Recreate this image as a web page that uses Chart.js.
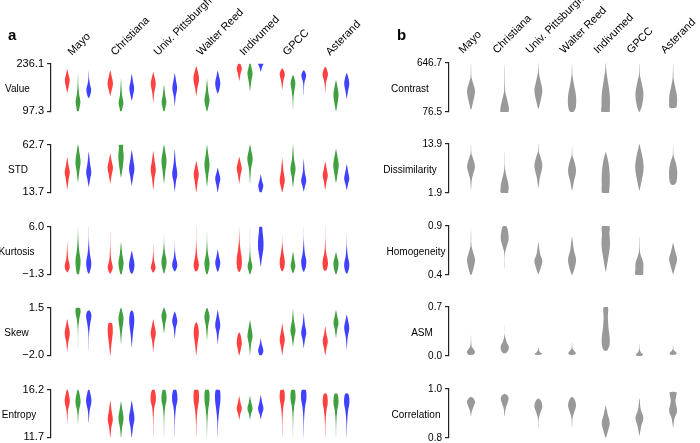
<!DOCTYPE html>
<html>
<head>
<meta charset="utf-8">
<script src="https://cdn.jsdelivr.net/npm/chart.js@4.4.0/dist/chart.umd.min.js"></script>
<style>
  body { margin: 0; background: #fff; }
  #fig { position: relative; width: 700px; height: 443px; overflow: hidden; font-family: "Liberation Sans", Arial, sans-serif; }
  canvas { position: absolute; }
  .lbl { position: absolute; font-size: 10px; color: #000; white-space: nowrap; transform: translate(-50%, -50%); }
  .col { position: absolute; font-size: 11px; line-height: 13px; color: #000; white-space: nowrap; transform-origin: 0 100%; transform: rotate(-45deg); }
  .pan { position: absolute; font-size: 15px; font-weight: bold; color: #000; }
</style>
</head>
<body>
<div id="fig"></div>
<script>
const sites = ['Mayo', 'Christiana', 'Univ. Pittsburgh', 'Walter Reed', 'Indivumed', 'GPCC', 'Asterand'];
const rowsA = ['Value', 'STD', 'Kurtosis', 'Skew', 'Entropy'];
const ticksA = [[97.3, 236.1], [13.7, 62.7], [-1.3, 6.0], [-2.0, 1.5], [11.7, 16.2]];
const rowsB = ['Contrast', 'Dissimilarity', 'Homogeneity', 'ASM', 'Correlation'];
const ticksB = [[76.5, 646.7], [1.9, 13.9], [0.4, 0.9], [0.0, 0.7], [0.8, 1.0]];

// each violin = [value, relative width] pairs from bottom to top, one per site
const valueR = [
  [[152,.05],[165,.35],[188,.8],[207,.35],[220,.03]],
  [[143,.05],[158,.45],[178,.9],[200,.45],[217,.03]],
  [[123,.03],[150,.3],[178,.85],[198,.4],[212,.03]],
  [[143,.05],[165,.4],[192,.95],[215,.45],[229,.03]],
  [[186,.03],[205,.4],[222,.85],[232,.5],[236.1,.25]],
  [[161,.03],[185,.35],[205,.85],[218,.4],[222.5,.04]],
  [[152,.03],[180,.25],[205,.9],[222,.4],[227,.04]]
];
const valueG = [
  [[97.3,.25],[112,.6],[125,.8],[150,.35],[175,.12],[206,.03]],
  [[97.3,.2],[110,.55],[122,.8],[145,.35],[170,.15],[191,.03]],
  [[97.3,.15],[110,.5],[125,.8],[145,.4],[174,.03]],
  [[97.3,.1],[112,.5],[130,.85],[155,.4],[191,.03]],
  [[156,.03],[180,.35],[208,.85],[228,.4],[236.1,.15]],
  [[106,.03],[140,.2],[165,.6],[180,.8],[195,.4],[203,.04]],
  [[97.3,.05],[115,.4],[145,.85],[170,.45],[188,.03]]
];
const valueB = [
  [[136,.1],[148,.6],[160,.8],[178,.35],[195,.1],[215,.02]],
  [[129,.05],[145,.45],[165,.8],[185,.4],[206,.03]],
  [[114,.03],[140,.3],[165,.8],[188,.4],[208,.03]],
  [[149,.05],[160,.5],[180,.85],[200,.4],[215,.03]],
  [[212.5,.03],[225,.4],[233,.8],[236.1,.9]],
  [[145,.03],[180,.2],[200,.8],[212,.45],[217,.04]],
  [[134,.03],[155,.4],[178,.85],[198,.45],[209,.03]]
];

const stdR = [
  [[17,.03],[27,.45],[34,.85],[42,.4],[50,.03]],
  [[22.7,.03],[32,.5],[39,.9],[47,.4],[53.7,.03]],
  [[16.3,.03],[28,.4],[37,.85],[46,.45],[56,.03]],
  [[13.7,.03],[25,.5],[32,.85],[40,.4],[46,.03]],
  [[22.7,.03],[32,.45],[38,.85],[45,.4],[50,.03]],
  [[13.7,.05],[20,.5],[26,.85],[36,.4],[49,.02]],
  [[16.3,.03],[25,.45],[31,.85],[39,.4],[45,.03]]
];
const stdG = [
  [[24,.03],[35,.45],[45,.85],[56,.4],[62.7,.05]],
  [[29,.03],[38,.5],[50,.9],[58,.7],[62.7,.6]],
  [[22.7,.03],[35,.45],[46,.85],[56,.4],[62.7,.03]],
  [[19.5,.03],[32,.45],[42,.85],[53,.4],[62.7,.02]],
  [[22.7,.02],[38,.35],[48,.9],[57,.4],[62.7,.03]],
  [[19,.03],[30,.45],[38,.85],[48,.35],[62.7,.02]],
  [[23.3,.05],[33,.55],[42,.9],[52,.4],[58.5,.03]]
];
const stdB = [
  [[19.5,.03],[28,.5],[34,.85],[44,.4],[55,.03]],
  [[21,.03],[30,.5],[38,.9],[48,.45],[57,.03]],
  [[14.7,.03],[25,.4],[32,.85],[44,.35],[58,.02]],
  [[13.7,.03],[22,.5],[28,.85],[34,.4],[39,.03]],
  [[13.7,.3],[18,.7],[21,.85],[26,.4],[32,.03]],
  [[14.7,.03],[21,.5],[26,.85],[34,.35],[48,.02]],
  [[16.3,.05],[23,.5],[28,.85],[36,.4],[42.5,.03]]
];

const kurtR = [
  [[-1.0,.05],[-0.6,.6],[0,.85],[1,.35],[2.5,.1],[3.6,.02]],
  [[-1.15,.15],[-0.6,.7],[-0.2,.85],[1,.3],[3,.06],[5.3,.02]],
  [[-1.0,.15],[-0.6,.6],[-0.2,.8],[0.8,.3],[2,.08],[3.3,.02]],
  [[-0.8,.3],[-0.2,.8],[0.3,.85],[1.5,.35],[3.5,.06],[6,.02]],
  [[-0.9,.2],[-0.2,.75],[1,.85],[2.5,.4],[4,.1],[5.8,.02]],
  [[-0.8,.15],[-0.2,.7],[0.7,.85],[2,.4],[3.5,.06],[4.7,.02]],
  [[-0.7,.35],[0,.85],[0.8,.85],[2,.3],[4,.05],[6,.02]]
];
const kurtG = [
  [[-1.3,.3],[-0.3,.7],[0.8,.85],[2.5,.35],[4.5,.08],[6,.02]],
  [[-1.3,.15],[-0.5,.6],[0.5,.85],[1.8,.4],[3.6,.03]],
  [[-1.15,.1],[-0.3,.6],[0.7,.85],[2,.35],[3.5,.06],[4.9,.02]],
  [[-1.3,.15],[-0.4,.7],[0.5,.85],[2,.3],[3.8,.06],[5.3,.02]],
  [[-1.3,.1],[-0.5,.6],[0,.8],[1,.3],[3,.05],[6,.02]],
  [[-1.15,.05],[-0.5,.55],[0,.8],[0.9,.45],[2.2,.03]],
  [[-1.3,.1],[-0.4,.7],[0.5,.85],[1.3,.45],[2.1,.03]]
];
const kurtB = [
  [[-1.15,.2],[-0.3,.7],[0.5,.85],[2,.35],[4,.05],[6,.02]],
  [[-1.15,.25],[-0.5,.75],[0.3,.9],[1.3,.5],[2.3,.03]],
  [[-0.8,.15],[-0.3,.7],[0.3,.85],[1.3,.35],[2.5,.06],[3.8,.02]],
  [[-0.9,.1],[-0.2,.6],[0.5,.85],[1.5,.4],[2.5,.03]],
  [[-0.06,.05],[1.2,.4],[2.5,.85],[3.8,.9],[5.2,.6],[6,.4]],
  [[-0.9,.1],[-0.2,.65],[0.7,.85],[2,.35],[4,.05],[6,.01]],
  [[-1.15,.2],[-0.4,.75],[0.3,.85],[1.5,.35],[3.2,.06],[4.8,.02]]
];

const skewR = [
  [[-1.75,.02],[-1.1,.3],[-0.4,.85],[0.2,.4],[0.65,.03]],
  [[-2,.05],[-1.3,.35],[-0.3,.85],[0.2,.75],[0.36,.5]],
  [[-1.75,.02],[-1.0,.35],[-0.4,.85],[0.2,.4],[0.65,.03]],
  [[-2,.03],[-1.2,.4],[-0.4,.85],[0.2,.55],[0.42,.1]],
  [[-2,.05],[-1.5,.55],[-1.05,.85],[-0.55,.5],[-0.33,.1]],
  [[-1.98,.02],[-1.4,.4],[-0.85,.85],[-0.2,.35],[0.36,.02]],
  [[-2,.03],[-1.5,.4],[-0.95,.85],[-0.4,.35],[0.13,.02]]
];
const skewG = [
  [[-1.52,.02],[0,.1],[0.7,.45],[1.2,.85],[1.5,.55]],
  [[-1.18,.02],[-0.3,.3],[0.7,.85],[1.2,.45],[1.5,.05]],
  [[-0.38,.03],[0.3,.4],[0.9,.85],[1.3,.4],[1.5,.03]],
  [[-0.88,.02],[0.1,.35],[0.8,.85],[1.3,.4],[1.5,.03]],
  [[-2,.02],[-1.2,.35],[-0.6,.85],[0.1,.4],[0.58,.02]],
  [[-1.34,.02],[-0.7,.4],[-0.15,.85],[0.6,.3],[1.4,.02]],
  [[-0.72,.02],[-0.1,.4],[0.35,.85],[0.9,.4],[1.34,.02]]
];
const skewB = [
  [[-1.64,.02],[-0.4,.12],[0.4,.55],[0.9,.9],[1.25,.4]],
  [[-1.41,.02],[-0.5,.35],[0.5,.85],[1.1,.6],[1.27,.2]],
  [[-0.79,.02],[0,.35],[0.5,.85],[1.0,.4],[1.22,.03]],
  [[-1.18,.02],[-0.4,.35],[0.2,.85],[0.9,.35],[1.34,.02]],
  [[-2,.3],[-1.8,.75],[-1.6,.85],[-1.15,.3],[-0.72,.02]],
  [[-1.48,.02],[-0.9,.35],[-0.35,.85],[0.3,.35],[1.11,.02]],
  [[-1.57,.02],[-0.7,.3],[0,.85],[0.6,.4],[1.0,.02]]
];

const entR = [
  [[13.05,.02],[14.2,.25],[15.1,.85],[15.8,.5],[16.2,.1]],
  [[11.7,.05],[12.6,.35],[13.4,.85],[14.3,.4],[15.17,.02]],
  [[11.7,.02],[13.5,.1],[14.5,.35],[15.3,.9],[16.2,.4]],
  [[11.7,.02],[13.2,.12],[14.3,.4],[15.3,.9],[16.2,.6]],
  [[13.35,.02],[13.9,.35],[14.4,.85],[15.0,.4],[15.6,.02]],
  [[11.7,.02],[13.4,.1],[14.5,.35],[15.4,.85],[16.2,.5]],
  [[11.7,.02],[13.2,.12],[14.2,.4],[15.0,.85],[15.8,.45]]
];
const entG = [
  [[12.97,.02],[14.1,.25],[15.0,.85],[15.8,.5],[16.2,.1]],
  [[11.7,.05],[12.6,.35],[13.5,.85],[14.4,.4],[15.1,.02]],
  [[11.7,.02],[13.5,.1],[14.5,.35],[15.3,.85],[16.2,.4]],
  [[11.7,.02],[13.2,.12],[14.3,.4],[15.3,.85],[16.2,.55]],
  [[13.35,.02],[13.9,.35],[14.4,.85],[15.0,.4],[15.6,.02]],
  [[11.7,.02],[13.4,.1],[14.5,.35],[15.4,.85],[16.2,.5]],
  [[11.7,.02],[13.2,.12],[14.2,.4],[15.0,.85],[15.8,.45]]
];
const entB = [
  [[13.05,.02],[14.2,.3],[15.1,.9],[15.8,.55],[16.2,.15]],
  [[11.7,.05],[12.6,.4],[13.5,.9],[14.4,.45],[15.17,.02]],
  [[11.7,.02],[13.5,.12],[14.5,.4],[15.3,.9],[16.2,.45]],
  [[11.7,.02],[13.2,.15],[14.3,.5],[15.3,.9],[16.2,.6]],
  [[13.4,.02],[13.9,.4],[14.4,.9],[15.0,.45],[15.7,.02]],
  [[11.7,.02],[13.4,.12],[14.5,.4],[15.4,.9],[16.2,.6]],
  [[11.7,.02],[13.2,.15],[14.2,.45],[15.0,.9],[15.8,.5]]
];

const contrast = [
  [[102.6,.05],[170,.35],[318,.85],[420,.4],[480,.1],[635,.02]],
  [[76.5,.85],[120,.9],[180,.7],[260,.35],[330,.1],[617,.02]],
  [[113.7,.05],[190,.4],[330,.85],[440,.45],[540,.1],[646.7,.02]],
  [[76.5,.35],[130,.8],[260,.85],[400,.4],[500,.1],[635,.02]],
  [[76.5,.85],[150,.9],[280,.85],[420,.5],[560,.12],[646.7,.02]],
  [[76.5,.05],[150,.55],[290,.85],[420,.45],[510,.1],[635,.02]],
  [[125,.7],[180,.85],[270,.8],[380,.4],[470,.1],[635,.02]]
];
const dissimilarity = [
  [[2.7,.03],[5,.15],[6.5,.45],[8.4,.85],[10.5,.4],[11.5,.1],[13.7,.02]],
  [[1.9,.75],[3.5,.85],[5.5,.5],[7,.2],[8.5,.05],[11.8,.02]],
  [[3.16,.03],[5.5,.3],[8.5,.85],[10.8,.45],[12,.1],[13.9,.02]],
  [[2.5,.03],[4.5,.35],[7.3,.85],[9.8,.45],[11,.1],[13.1,.02]],
  [[1.9,.7],[4,.85],[6.5,.85],[9.5,.55],[11.9,.05]],
  [[2.5,.03],[4.5,.4],[8,.9],[11,.6],[12.5,.3],[13.9,.02]],
  [[3.9,.3],[4.8,.75],[7.5,.85],[9.8,.45],[11,.1],[13.35,.02]]
];
const homogeneity = [
  [[0.4,.1],[0.48,.6],[0.56,.85],[0.64,.4],[0.7,.1],[0.854,.02]],
  [[0.47,.03],[0.62,.08],[0.7,.5],[0.77,.85],[0.86,.65],[0.9,.3]],
  [[0.407,.03],[0.48,.55],[0.545,.85],[0.62,.35],[0.733,.02]],
  [[0.4,.05],[0.48,.6],[0.56,.85],[0.65,.4],[0.79,.02]],
  [[0.43,.02],[0.55,.45],[0.7,.9],[0.82,.8],[0.9,.75]],
  [[0.4,.8],[0.47,.85],[0.53,.8],[0.6,.3],[0.65,.08],[0.79,.02]],
  [[0.407,.03],[0.48,.45],[0.56,.85],[0.64,.45],[0.73,.02]]
];
const asm = [
  [[0.018,.5],[0.05,.85],[0.085,.7],[0.13,.2],[0.2,.05],[0.297,.02]],
  [[0.041,.3],[0.09,.8],[0.14,.85],[0.2,.4],[0.3,.04],[0.42,.02]],
  [[0.018,.6],[0.035,.8],[0.05,.4],[0.085,.1],[0.124,.02]],
  [[0.018,.5],[0.04,.8],[0.07,.5],[0.11,.1],[0.192,.02]],
  [[0.078,.35],[0.15,.8],[0.26,.85],[0.4,.6],[0.55,.45],[0.7,.45]],
  [[0.0,.5],[0.025,.75],[0.05,.3],[0.1,.06],[0.178,.02]],
  [[0.018,.5],[0.04,.75],[0.06,.5],[0.09,.12],[0.146,.02]]
];
const correlation = [
  [[0.889,.03],[0.91,.2],[0.935,.7],[0.95,.85],[0.962,.5],[0.967,.1]],
  [[0.889,.03],[0.92,.2],[0.945,.65],[0.962,.85],[0.975,.55],[0.98,.1]],
  [[0.837,.02],[0.88,.1],[0.91,.55],[0.93,.85],[0.952,.55],[0.961,.1]],
  [[0.843,.02],[0.885,.15],[0.915,.65],[0.935,.85],[0.955,.6],[0.967,.1]],
  [[0.8,.03],[0.83,.5],[0.86,.85],[0.895,.45],[0.932,.02]],
  [[0.81,.03],[0.85,.4],[0.882,.85],[0.915,.3],[0.961,.02]],
  [[0.843,.02],[0.88,.3],[0.91,.85],[0.95,.5],[0.975,.7],[0.987,.7]]
];

const seriesA = [[valueR, valueG, valueB], [stdR, stdG, stdB], [kurtR, kurtG, kurtB], [skewR, skewG, skewB], [entR, entG, entB]];
const seriesB = [[contrast], [dissimilarity], [homogeneity], [asm], [correlation]];

const fig = document.getElementById('fig');
const FONT = '"Liberation Sans", Arial, sans-serif';
const rowTop = [62, 143, 225, 306, 388];
const rowH = 51;
const PAD = 8;

function violinData(knots, c, h) {
  const right = knots.map(([y, w]) => ({x: c + w * h, y: y}));
  const left = knots.slice().reverse().map(([y, w]) => ({x: c - w * h, y: y}));
  const pts = right.concat(left);
  pts.push(pts[0]);
  return pts;
}

function fmt(v) {
  return v.toFixed(1).replace('-', '\u2212');
}

function drawRow(o) {
  const cv = document.createElement('canvas');
  cv.width = o.width;
  cv.height = rowH + 2 * PAD;
  cv.style.left = o.left + 'px';
  cv.style.top = (o.top - PAD) + 'px';
  fig.appendChild(cv);

  const datasets = [];
  o.groups.forEach((series, k) => {
    series.forEach((knots, i) => {
      datasets.push({
        data: violinData(knots, i + o.offsets[k], o.half),
        showLine: true,
        fill: 'shape',
        tension: 0.35,
        backgroundColor: o.colors[k],
        borderColor: 'rgba(0,0,0,0)',
        borderWidth: 0,
        pointRadius: 0,
        pointHoverRadius: 0
      });
    });
  });

  const lo = o.ticks[0], hi = o.ticks[1];
  return new Chart(cv, {
    type: 'scatter',
    data: {datasets},
    options: {
      responsive: false,
      animation: false,
      events: [],
      layout: {padding: {top: PAD, bottom: PAD, left: 0, right: 0}},
      plugins: {legend: {display: false}, tooltip: {enabled: false}},
      scales: {
        x: {type: 'linear', min: o.xmin, max: o.xmax, display: false},
        y: {
          type: 'linear', min: lo, max: hi,
          afterBuildTicks: s => { s.ticks = [{value: lo}, {value: hi}]; },
          afterFit: s => { s.width = 51; },
          ticks: {font: {family: FONT, size: o.tickSize}, color: '#000', padding: 3, callback: v => fmt(v)},
          grid: {drawOnChartArea: false, drawTicks: true, tickLength: 4, color: '#222', lineWidth: 1.2},
          border: {display: true, color: '#222', width: 1.2}
        }
      }
    }
  });
}

function addDiv(cls, text, x, y) {
  const d = document.createElement('div');
  d.className = cls;
  d.textContent = text;
  d.style.left = x + 'px';
  d.style.top = y + 'px';
  fig.appendChild(d);
  return d;
}

// panel a
const labelXA = [17.5, 18, 16.5, 16.5, 19];
let firstA;
seriesA.forEach((groups, r) => {
  const ch = drawRow({
    left: 0, top: rowTop[r], width: 363,
    groups, offsets: [-0.25, 0, 0.25],
    colors: ['rgba(255,0,0,0.75)', 'rgba(0,128,0,0.75)', 'rgba(0,0,255,0.75)'],
    half: 0.07, xmin: -0.628, xmax: 6.628, ticks: ticksA[r], tickSize: 11
  });
  if (r === 0) firstA = ch;
  addDiv('lbl', rowsA[r], labelXA[r], rowTop[r] + rowH / 2);
});

// panel b
const labelXB = [410, 410, 416, 422, 416];
let firstB;
seriesB.forEach((groups, r) => {
  const ch = drawRow({
    left: 398, top: rowTop[r], width: 297,
    groups, offsets: [0],
    colors: ['#999999'],
    half: 0.139, xmin: -0.653, xmax: 6.65, ticks: ticksB[r], tickSize: 10
  });
  if (r === 0) firstB = ch;
  addDiv('lbl', rowsB[r], labelXB[r], rowTop[r] + rowH / 2);
});

// site names along the top, placed from the x scale
sites.forEach((s, i) => {
  const xa = firstA.scales.x.getPixelForValue(i);
  addDiv('col', s, xa - 4, 58 - 13);
  const xb = 398 + firstB.scales.x.getPixelForValue(i);
  addDiv('col', s, xb - 6, 56 - 13);
});

addDiv('pan', 'a', 8, 26);
addDiv('pan', 'b', 397, 26);
</script>
</body>
</html>
